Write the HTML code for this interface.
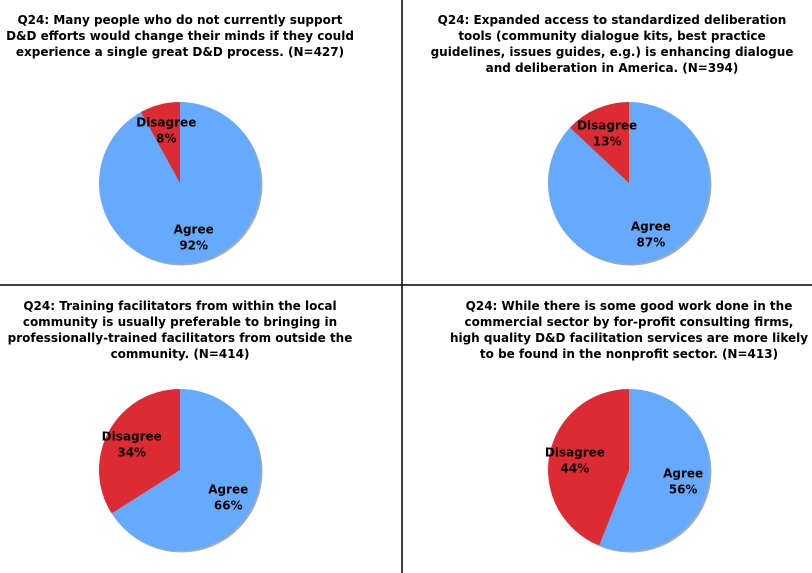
<!DOCTYPE html>
<html><head><meta charset="utf-8"><style>
body{margin:0;background:#fff}
svg{display:block}
text{font-family:"DejaVu Sans","Liberation Sans",sans-serif;font-weight:bold;font-size:12px;fill:#000}
</style></head><body>
<svg id="c" width="812" height="573">
<line x1="402" y1="0" x2="402" y2="573" stroke="#000" stroke-width="1.5"/>
<line x1="0" y1="285" x2="812" y2="285" stroke="#000" stroke-width="1.5"/>
</svg>
<script>
const titles=[
["Q24: Many people who do not currently support","D&D efforts would change their minds if they could","experience a single great D&D process. (N=427)"],
["Q24: Expanded access to standardized deliberation","tools (community dialogue kits, best practice","guidelines, issues guides, e.g.) is enhancing dialogue","and deliberation in America. (N=394)"],
["Q24: Training facilitators from within the local","community is usually preferable to bringing in","professionally-trained facilitators from outside the","community. (N=414)"],
["Q24: While there is some good work done in the","commercial sector by for-profit consulting firms,","high quality D&D facilitation services are more likely","to be found in the nonprofit sector. (N=413)"]];
const agreeValues=[92,87,66,56];
const disagreeValues=[8,13,34,44];
const categories=["Agree","Disagree"];
const colors=["#66aaff","#dd2b33"];
const panels=[{cx:180,tx:180,ty:24,cy:183},{cx:629,tx:612,ty:24,cy:183},{cx:180,tx:180,ty:310,cy:470},{cx:629,tx:629,ty:310,cy:470}];
const svg=document.getElementById('c');const NS="http://www.w3.org/2000/svg";
const R=81;
function pt(cx,cy,r,a){return [cx+r*Math.sin(a),cy-r*Math.cos(a)];}
panels.forEach((p,i)=>{
  const g=document.createElementNS(NS,'g');
  
  
  svg.appendChild(g);
  titles[i].forEach((t,j)=>{
    const e=document.createElementNS(NS,'text');
    
    
    e.setAttribute('x',p.tx);e.setAttribute('y',p.ty+j*16);e.setAttribute('text-anchor','middle');
    e.textContent=t;g.appendChild(e);
  });
  const sh=document.createElementNS(NS,'circle');
  
  
  sh.setAttribute('cx',p.cx+1.5);sh.setAttribute('cy',p.cy+1.5);sh.setAttribute('r',R);sh.setAttribute('fill','#aaa');
  g.appendChild(sh);
  const vals=[agreeValues[i],disagreeValues[i]];
  const tot=vals[0]+vals[1];let a0=0;
  vals.forEach((v,k)=>{
    const a1=a0+v/tot*2*Math.PI;
    const s=pt(p.cx,p.cy,R,a0),e=pt(p.cx,p.cy,R,a1);
    const path=document.createElementNS(NS,'path');
    
    
    path.setAttribute('d',`M${p.cx},${p.cy}L${s[0]},${s[1]}A${R},${R} 0 ${a1-a0>Math.PI?1:0} 1 ${e[0]},${e[1]}Z`);
    path.setAttribute('fill',colors[k]);g.appendChild(path);
    const m=(a0+a1)/2;const lp=pt(p.cx,p.cy,R*0.68,m);
    [categories[k],v+'%'].forEach((t,j)=>{
      const tx=document.createElementNS(NS,'text');
      
      
      tx.setAttribute('x',lp[0]);tx.setAttribute('y',lp[1]-3+j*16);tx.setAttribute('text-anchor','middle');
      tx.textContent=t;g.appendChild(tx);
    });
    a0=a1;
  });
});
</script>
</body></html>
